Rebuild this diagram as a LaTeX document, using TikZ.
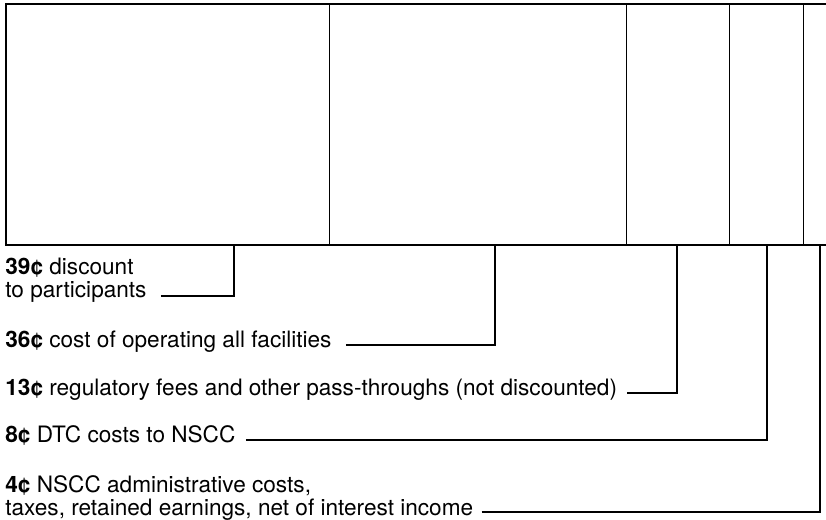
\documentclass[tikz,border=0pt]{standalone}
\usepackage{fontspec}
\setmainfont{TeX Gyre Heros}

\begin{document}
\begin{tikzpicture}[x={(0.5pt,0pt)}, y={(0pt,-0.5pt)},
    lab/.style={anchor=south west, inner sep=0pt, align=left, text depth=0pt,
        font=\fontsize{11.3}{11.8}\selectfont},
    lead/.style={line width=1.2pt}]
    \useasboundingbox (0,0) rectangle (826,520);
    % the bar, open on the right
    \draw[line width=0.8pt] (826,4) -- (6,4) -- (6,245) -- (826,245);
    \foreach \x in {329,626,729,803}
        \draw[line width=0.5pt] (\x,4) -- (\x,245);
    % where the leaders meet the bar
    \coordinate (b39) at (234,245);
    \coordinate (b36) at (495,245);
    \coordinate (b13) at (677,245);
    \coordinate (b8) at (767,245);
    \coordinate (b4) at (820,245);

    \node[lab] (l39) at (5,298) {\textbf{39¢} discount\\to participants};
    \node[lab] (l36) at (5,348) {\textbf{36¢} cost of operating all facilities};
    \node[lab] (l13) at (5,396) {\textbf{13¢} regulatory fees and other pass-throughs (not discounted)};
    \node[lab] (l8) at (5,443) {\textbf{8¢} DTC costs to NSCC};
    \node[lab] (l4) at (5,516) {\textbf{4¢} NSCC administrative costs,\\taxes, retained earnings, net of interest income};

    \draw[lead] ([xshift=7pt,yshift=1pt]l39.south east) -| (b39);
    \draw[lead] ([xshift=7pt,yshift=1.5pt]l36.south east) -| (b36);
    \draw[lead] ([xshift=5pt,yshift=1.5pt]l13.south east) -| (b13);
    \draw[lead] ([xshift=5pt,yshift=1.5pt]l8.south east) -| (b8);
    \draw[lead] ([xshift=4pt,yshift=2pt]l4.south east) -| (b4);
\end{tikzpicture}
\end{document}
